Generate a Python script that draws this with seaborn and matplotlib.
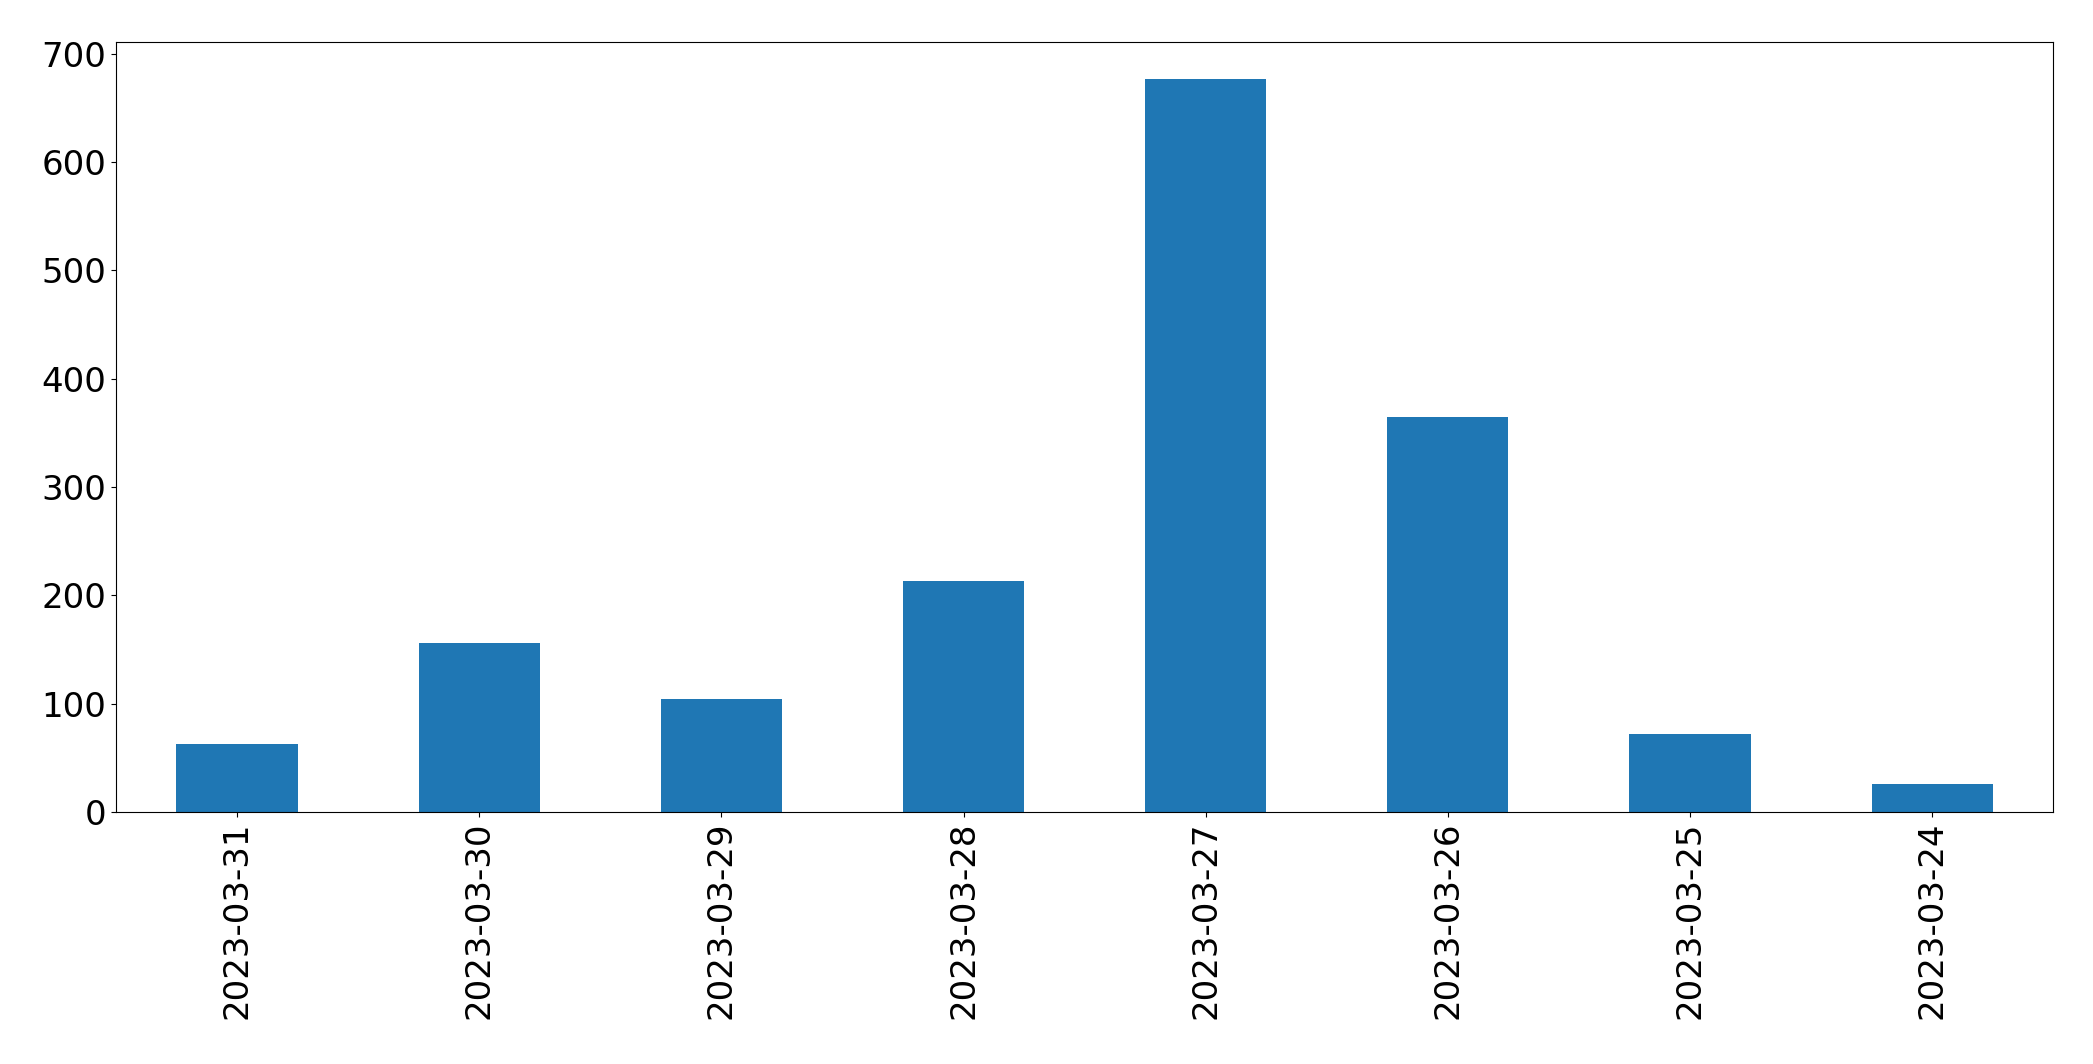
import pandas as pd
import seaborn as sns
import matplotlib
matplotlib.use('Agg')
import matplotlib.pyplot as plt

fechas = ['2023-03-31', '2023-03-30', '2023-03-29', '2023-03-28',
          '2023-03-27', '2023-03-26', '2023-03-25', '2023-03-24']
conteos = [63, 156, 104, 213, 677, 365, 72, 26]

datos = pd.DataFrame({'fecha': fechas, 'conteo': conteos})

fig, ax = plt.subplots(figsize=(20.93, 10.64), dpi=100)
sns.barplot(data=datos, x='fecha', y='conteo', color='#1f77b4',
            saturation=1, width=0.5, ax=ax)
ax.set_xlim(-0.5, len(fechas) - 0.5)
ax.set_xlabel('')
ax.set_ylabel('')
ax.tick_params(axis='both', labelsize=24.5)
plt.xticks(rotation=90)
fig.subplots_adjust(left=0.0554, right=0.981, top=0.9605, bottom=0.2368)
fig.savefig('out.png', dpi=100)
